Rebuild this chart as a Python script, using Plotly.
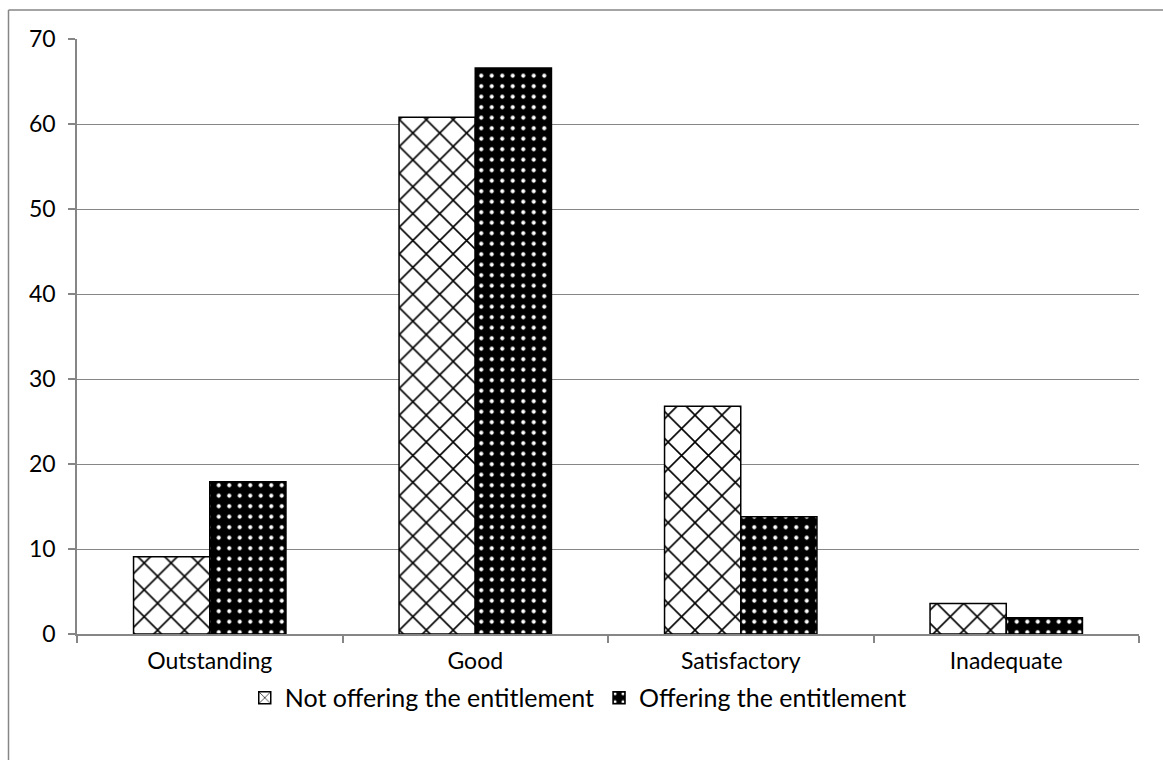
import plotly.graph_objects as go

# Inspection grades and share of providers (%) in each group
categories = ["Outstanding", "Good", "Satisfactory", "Inadequate"]
not_offering = [9.1, 60.8, 26.8, 3.6]
offering = [17.9, 66.6, 13.8, 1.9]
y_ticks = [0, 10, 20, 30, 40, 50, 60, 70]

FONT = "Lato, 'Open Sans', sans-serif"
GRID = "#868686"

fig = go.Figure()

fig.add_trace(go.Bar(
    name="Not offering the entitlement",
    x=categories,
    y=not_offering,
    marker=dict(
        color="white",
        line=dict(color="black", width=1.5),
        pattern=dict(shape="x", size=19, solidity=0.16, fgopacity=1,
                     fgcolor="black", bgcolor="white", fillmode="overlay"),
    ),
))

fig.add_trace(go.Bar(
    name="Offering the entitlement",
    x=categories,
    y=offering,
    marker=dict(
        color="black",
        line=dict(color="black", width=1.5),
        pattern=dict(shape=".", size=10.5, solidity=0.12, fgopacity=1,
                     fgcolor="white", bgcolor="black", fillmode="overlay"),
    ),
))

# plot area in pixels: left 77, right 1139, top 38.5, bottom 634
L, R, T, B = 77, 1139, 38.5, 634
W, H = R - L, B - T


def px_x(p):
    return (p - L) / W


def px_y(p):
    return (B - p) / H


# outer chart frame (top and left edges visible)
border = dict(type="line", xref="paper", yref="paper",
              line=dict(color=GRID, width=1.5), layer="below")
fig.add_shape(**border, x0=px_x(8.5), x1=px_x(1175), y0=px_y(9.5), y1=px_y(9.5))
fig.add_shape(**border, x0=px_x(8.5), x1=px_x(8.5), y0=px_y(9.5), y1=px_y(775))

fig.update_layout(
    width=1163,
    height=760,
    margin=dict(l=L, r=1163 - R, t=T, b=760 - B),
    paper_bgcolor="white",
    plot_bgcolor="white",
    barmode="group",
    bargap=0.426,
    bargroupgap=0,
    font=dict(family=FONT, size=23, color="black"),
    showlegend=True,
    legend=dict(
        orientation="h",
        x=0.472, xanchor="center",
        y=px_y(698), yanchor="middle",
        font=dict(family=FONT, size=25, color="black"),
        itemwidth=30,
        tracegroupgap=0,
    ),
    xaxis=dict(
        type="category",
        showline=True, linecolor=GRID, linewidth=1.5,
        ticks="outside", tickson="boundaries", ticklen=7,
        tickcolor=GRID, tickwidth=1.5,
        showgrid=False,
        tickfont=dict(family=FONT, size=23, color="black"),
        ticklabelstandoff=6,
    ),
    yaxis=dict(
        range=[0, 70],
        tickvals=y_ticks,
        showline=True, linecolor=GRID, linewidth=1.5,
        ticks="outside", ticklen=7, tickcolor=GRID, tickwidth=1.5,
        showgrid=True, gridcolor=GRID, gridwidth=1.3,
        zeroline=False,
        tickfont=dict(family=FONT, size=23, color="black"),
        ticklabelstandoff=8,
    ),
)

fig.write_html("out.html")
